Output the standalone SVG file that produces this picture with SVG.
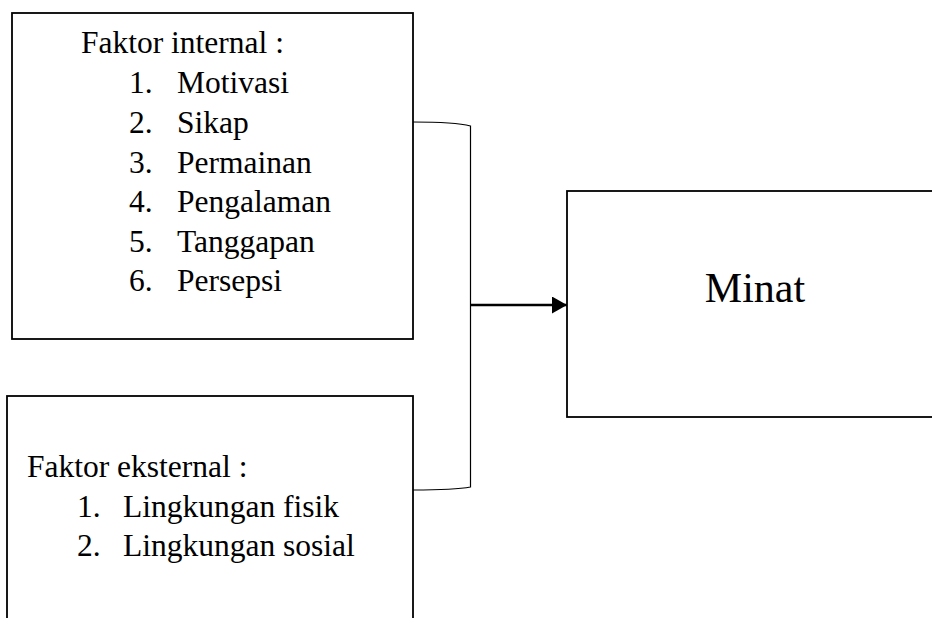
<svg xmlns="http://www.w3.org/2000/svg" width="932" height="618" viewBox="0 0 932 618">
  <style>
    .box { fill: #ffffff; stroke: #000000; stroke-width: 1.8; }
    .t { font-family: "Liberation Serif", "Times New Roman", serif; font-size: 31.5px; fill: #000000; }
    .big { font-family: "Liberation Serif", "Times New Roman", serif; font-size: 42px; fill: #000000; text-anchor: middle; }
    .bracket { fill: none; stroke: #000000; stroke-width: 1.2; }
    .arrow { fill: none; stroke: #000000; stroke-width: 2.4; }
  </style>
  <defs>
    <marker id="ah" markerUnits="userSpaceOnUse" markerWidth="16" markerHeight="18" refX="15" refY="8.5" orient="auto">
      <path d="M0,0 L15,8.5 L0,17 Z" fill="#000000"/>
    </marker>
  </defs>
  <rect width="932" height="618" fill="#ffffff"/>

  <g id="internal">
    <rect class="box" x="12" y="13" width="401" height="326"/>
    <text class="t" x="81" y="53">Faktor internal :</text>
    <text class="t" x="129" y="93">1.</text><text class="t" x="177" y="93">Motivasi</text>
    <text class="t" x="129" y="133">2.</text><text class="t" x="177" y="133">Sikap</text>
    <text class="t" x="129" y="173">3.</text><text class="t" x="177" y="173">Permainan</text>
    <text class="t" x="129" y="212">4.</text><text class="t" x="177" y="212">Pengalaman</text>
    <text class="t" x="129" y="252">5.</text><text class="t" x="177" y="252">Tanggapan</text>
    <text class="t" x="129" y="291">6.</text><text class="t" x="177" y="291">Persepsi</text>
  </g>

  <g id="eksternal">
    <rect class="box" x="7" y="396" width="406" height="240"/>
    <text class="t" x="27" y="477">Faktor eksternal :</text>
    <text class="t" x="77" y="517">1.</text><text class="t" x="123" y="517">Lingkungan fisik</text>
    <text class="t" x="77" y="556">2.</text><text class="t" x="123" y="556">Lingkungan sosial</text>
  </g>

  <g id="minat">
    <rect class="box" x="567" y="191" width="380" height="226"/>
    <text class="big" x="755" y="302">Minat</text>
  </g>

  <g id="connectors">
    <path class="bracket" d="M413,122 Q455,122 470.5,126 L470.5,487 Q455,490 413,490"/>
    <line class="arrow" x1="471" y1="305" x2="567" y2="305" marker-end="url(#ah)"/>
  </g>
</svg>
